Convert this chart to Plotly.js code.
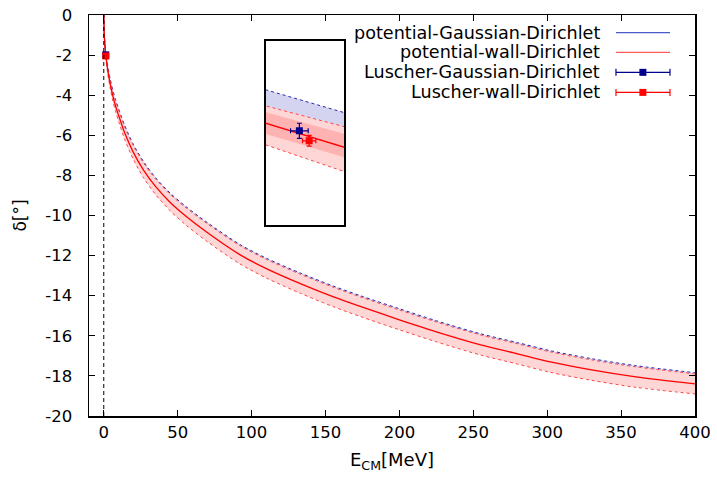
<!DOCTYPE html>
<html>
<head>
<meta charset="utf-8">
<script src="https://cdn.plot.ly/plotly-3.0.1.min.js"></script>
<style>html,body{margin:0;padding:0;background:#fff;}#plot{width:717px;height:479px;}</style>
</head>
<body>
<div id="plot"></div>
<script>
// ---- data ----
const E = [0, 0.3, 0.7, 1.2, 1.5, 2.2, 3, 4.5, 6, 8, 10, 14, 20, 27, 35, 45, 55, 70, 92, 110, 133, 155, 174, 200, 225, 255, 280, 302, 330, 360, 400];
const wallCenter = [0, -0.96, -1.46, -1.914, -2.109, -2.5, -2.9, -3.5, -4.0, -4.55, -5.0, -5.85, -6.85, -7.75, -8.55, -9.35, -10.0, -10.85, -11.95, -12.65, -13.4, -14.05, -14.55, -15.2, -15.8, -16.45, -16.9, -17.3, -17.7, -18.05, -18.4];
const wallUpper = [0, -0.91, -1.39, -1.825, -1.993, -2.36, -2.74, -3.31, -3.78, -4.30, -4.73, -5.55, -6.52, -7.39, -8.17, -8.95, -9.58, -10.41, -11.50, -12.19, -12.93, -13.57, -14.07, -14.71, -15.31, -15.96, -16.40, -16.80, -17.20, -17.55, -17.90];
const wallLower = [0, -1.02, -1.545, -2.028, -2.244, -2.66, -3.08, -3.71, -4.24, -4.82, -5.29, -6.17, -7.20, -8.13, -8.95, -9.77, -10.44, -11.30, -12.41, -13.12, -13.88, -14.54, -15.05, -15.70, -16.30, -16.96, -17.41, -17.82, -18.22, -18.57, -18.90];
const gaussCenter = [0, -0.93, -1.42, -1.864, -2.06, -2.45, -2.85, -3.45, -3.95, -4.5, -4.95, -5.8, -6.8, -7.7, -8.5, -9.3, -9.95, -10.8, -11.9, -12.6, -13.35, -14.0, -14.5, -15.15, -15.75, -16.4, -16.85, -17.25, -17.65, -18.0, -18.35];
const gaussUpper = [0, -0.86, -1.32, -1.735, -1.920, -2.29, -2.67, -3.24, -3.71, -4.23, -4.66, -5.48, -6.45, -7.32, -8.11, -8.89, -9.52, -10.35, -11.44, -12.13, -12.87, -13.51, -14.01, -14.65, -15.25, -15.90, -16.34, -16.74, -17.14, -17.49, -17.84];
const gaussLower = [0, -1.00, -1.52, -1.993, -2.20, -2.61, -3.03, -3.66, -4.19, -4.77, -5.24, -6.12, -7.15, -8.08, -8.89, -9.71, -10.38, -11.25, -12.36, -13.07, -13.83, -14.49, -14.99, -15.65, -16.25, -16.90, -17.36, -17.76, -18.16, -18.51, -18.86];
// inner (darker) wall band, visible in the inset
const innerE = [1.2, 1.5];
const innerUpper = [-1.858, -2.033];
const innerLower = [-1.973, -2.162];
// Luscher points
const luscherGaussE = [1.336], luscherGaussD = [-1.988], luscherGaussErrE = [0.0225], luscherGaussErrD = [0.041];
const luscherWallE = [1.361], luscherWallD = [-2.042], luscherWallErrE = [0.017], luscherWallErrD = [0.029];
const legendLabels = ['potential-Gaussian-Dirichlet', 'potential-wall-Dirichlet', 'Luscher-Gaussian-Dirichlet', 'Luscher-wall-Dirichlet'];
const xTicks = [0, 50, 100, 150, 200, 250, 300, 350, 400];
const yTicks = [0, -2, -4, -6, -8, -10, -12, -14, -16, -18, -20];

// ---- styles ----
const LAV = 'rgb(212,212,240)', PINK = 'rgb(255,214,214)', PINK2 = 'rgb(255,178,178)';
const BLUE_DOT = 'rgb(40,40,175)', RED_DOT = 'rgb(255,70,70)', RED = 'rgb(255,0,0)', NAVY = 'rgb(0,0,140)', BLUE_LINE = 'rgb(74,90,200)';

function traces(xa, ya, inset) {
  const t = [];
  const base = {xaxis: xa, yaxis: ya, mode: 'lines', showlegend: false, hoverinfo: 'skip'};
  const sp = inset ? {} : {shape: 'spline', smoothing: 0.8};
  const ln = o => Object.assign({}, sp, o);
  t.push(Object.assign({}, base, {x: E, y: gaussLower, line: ln({width: 0, color: LAV})}));
  t.push(Object.assign({}, base, {x: E, y: gaussUpper, fill: 'tonexty', fillcolor: LAV, line: ln({width: 0, color: LAV})}));
  t.push(Object.assign({}, base, {x: E, y: gaussCenter, line: ln({width: 1, color: BLUE_LINE})}));
  t.push(Object.assign({}, base, {x: E, y: wallLower, line: ln({width: 0, color: PINK})}));
  t.push(Object.assign({}, base, {x: E, y: wallUpper, fill: 'tonexty', fillcolor: PINK, line: ln({width: 0, color: PINK})}));
  if (inset) {
    t.push(Object.assign({}, base, {x: innerE, y: innerLower, line: {width: 0, color: PINK2}}));
    t.push(Object.assign({}, base, {x: innerE, y: innerUpper, fill: 'tonexty', fillcolor: PINK2, line: {width: 0, color: PINK2}}));
  }
  t.push(Object.assign({}, base, {x: E, y: gaussUpper, line: ln({width: 1, color: BLUE_DOT, dash: 'dot'})}));
  t.push(Object.assign({}, base, {x: E, y: wallUpper, line: ln({width: 1, color: RED_DOT, dash: 'dot'})}));
  t.push(Object.assign({}, base, {x: E, y: wallLower, line: ln({width: 1, color: RED_DOT, dash: 'dot'})}));
  t.push(Object.assign({}, base, {x: E, y: wallCenter, line: ln({width: 1.3, color: RED})}));
  t.push({xaxis: xa, yaxis: ya, x: luscherGaussE, y: luscherGaussD, mode: 'markers', showlegend: false, hoverinfo: 'skip',
    marker: {symbol: 'square', size: 7, color: NAVY},
    error_x: {type: 'data', array: luscherGaussErrE, color: NAVY, thickness: 1.2, width: 2.5},
    error_y: {type: 'data', array: luscherGaussErrD, color: NAVY, thickness: 1.2, width: 2.5}});
  t.push({xaxis: xa, yaxis: ya, x: luscherWallE, y: luscherWallD, mode: 'markers', showlegend: false, hoverinfo: 'skip',
    marker: {symbol: 'square', size: 7, color: RED},
    error_x: {type: 'data', array: luscherWallErrE, color: RED, thickness: 1.2, width: 2.5},
    error_y: {type: 'data', array: luscherWallErrD, color: RED, thickness: 1.2, width: 2.5}});
  return t;
}

const data = traces('x', 'y', false).concat(traces('x2', 'y2', true));

const FONT = 'DejaVu Sans, sans-serif';
// custom gnuplot-style legend (text right, sample left)
const rowsY = [0.956, 0.907, 0.857, 0.807];
const txtX = 0.8465, l0 = 0.8696, l1 = 0.9587, mX = 0.914;
const legColors = [BLUE_LINE, 'rgb(255,90,90)', NAVY, RED];
const annotations = legendLabels.map((s, i) => ({
  text: s, xref: 'paper', yref: 'paper', x: txtX, y: rowsY[i], xanchor: 'right', yanchor: 'middle',
  showarrow: false, font: {family: FONT, size: 17.6, color: '#000'}
}));
const shapes = [
  {type: 'line', xref: 'x', yref: 'paper', x0: 0, x1: 0, y0: 0, y1: 1, line: {color: '#000', width: 1, dash: '4px,3px'}}
];
legendLabels.forEach((s, i) => {
  shapes.push({type: 'line', xref: 'paper', yref: 'paper', x0: l0, x1: l1, y0: rowsY[i], y1: rowsY[i], line: {color: legColors[i], width: 1.2}});
  if (i >= 2) {
    [l0, l1].forEach(xx => shapes.push({type: 'line', xref: 'paper', yref: 'paper', xsizemode: 'scaled', ysizemode: 'pixel',
      yanchor: rowsY[i], x0: xx, x1: xx, y0: -3.5, y1: 3.5, line: {color: legColors[i], width: 1.2}}));
    shapes.push({type: 'rect', xref: 'paper', yref: 'paper', xsizemode: 'pixel', ysizemode: 'pixel',
      xanchor: mX, yanchor: rowsY[i], x0: -3.5, x1: 3.5, y0: -3.5, y1: 3.5, fillcolor: legColors[i], line: {width: 0}});
  }
});

const layout = {
  width: 717, height: 479,
  margin: {l: 89, r: 22, t: 15, b: 62.5},
  paper_bgcolor: '#fff', plot_bgcolor: '#fff',
  font: {family: FONT, size: 16.5, color: '#000'},
  showlegend: false,
  xaxis: {
    domain: [0, 1], range: [-10, 400], tickvals: xTicks, ticktext: xTicks.map(String),
    ticks: 'inside', ticklen: 6, tickwidth: 1, tickcolor: '#000', mirror: 'ticks', showline: true, linecolor: '#000', linewidth: 1.5,
    showgrid: false, zeroline: false, ticklabelstandoff: 1,
    title: {text: 'E<sub>CM</sub>[MeV]', font: {family: FONT, size: 18}, standoff: 12}
  },
  yaxis: {
    domain: [0, 1], range: [-20, 0], tickvals: yTicks, ticktext: yTicks.map(String),
    ticks: 'inside', ticklen: 6, tickwidth: 1, tickcolor: '#000', mirror: 'ticks', showline: true, linecolor: '#000', linewidth: 1.5,
    showgrid: false, zeroline: false, ticklabelstandoff: 12,
    title: {text: 'δ[°]', font: {family: FONT, size: 17}, standoff: 14}
  },
  xaxis2: {domain: [0.2916, 0.4208], anchor: 'y2', range: [1.25, 1.45], showticklabels: false, ticks: '', showgrid: false, zeroline: false,
    showline: true, mirror: true, linecolor: '#000', linewidth: 1.5},
  yaxis2: {domain: [0.4752, 0.936], anchor: 'x2', range: [-2.5, -1.5], showticklabels: false, ticks: '', showgrid: false, zeroline: false,
    showline: true, mirror: true, linecolor: '#000', linewidth: 1.5},
  annotations: annotations,
  shapes: shapes
};

Plotly.newPlot('plot', data, layout, {staticPlot: true, displayModeBar: false});
</script>
</body>
</html>
